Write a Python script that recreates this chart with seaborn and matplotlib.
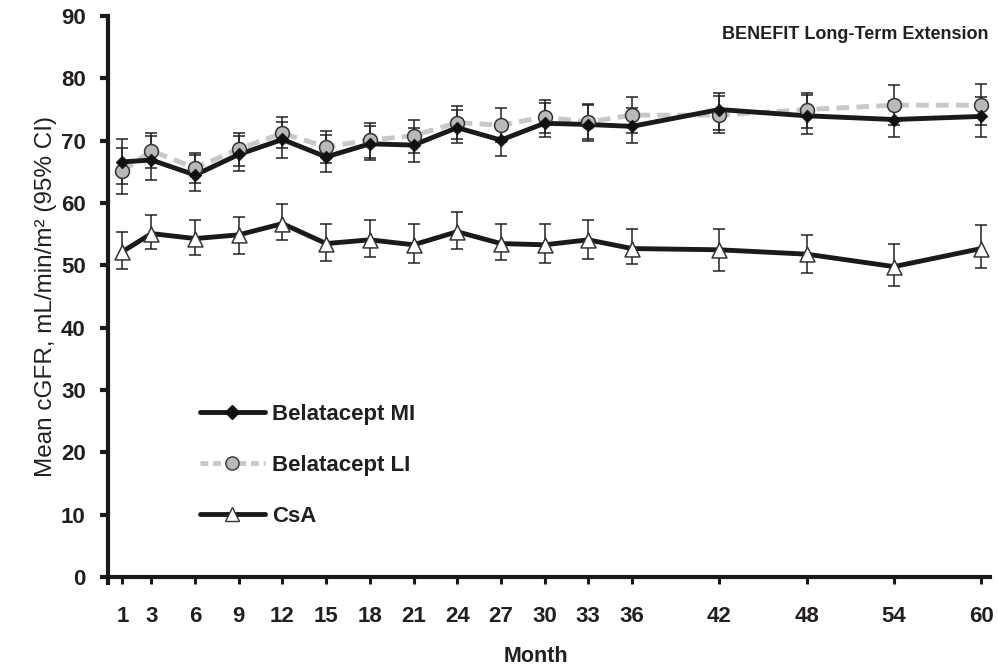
import numpy as np
import pandas as pd
import matplotlib
matplotlib.use("Agg")
import matplotlib.pyplot as plt
from matplotlib.lines import Line2D
import seaborn as sns

months = [1, 3, 6, 9, 12, 15, 18, 21, 24, 27, 30, 33, 36, 42, 48, 54, 60]
tick_labels = [str(m) for m in months]

mi_mean = [66.6, 66.9, 64.5, 67.8, 70.2, 67.4, 69.5, 69.3, 72.1, 70.1, 72.8, 72.6, 72.3, 75.0, 74.0, 73.4, 73.9]
mi_lo   = [63.0, 63.7, 61.9, 65.1, 67.3, 65.0, 66.9, 66.6, 69.7, 67.5, 70.6, 70.0, 69.7, 71.7, 71.0, 70.6, 70.6]
mi_hi   = [70.2, 70.8, 67.7, 70.8, 73.0, 70.9, 72.4, 72.1, 75.0, 72.7, 76.0, 75.7, 75.2, 77.7, 77.3, 76.3, 77.0]

li_mean = [65.1, 68.4, 65.6, 68.7, 71.2, 69.0, 70.1, 70.8, 72.9, 72.5, 73.8, 73.0, 74.1, 74.1, 75.0, 75.7, 75.7]
li_lo   = [61.4, 65.6, 63.2, 65.9, 68.9, 66.5, 67.3, 68.1, 70.2, 69.8, 71.3, 70.2, 71.2, 71.3, 72.0, 72.5, 72.5]
li_hi   = [68.9, 71.3, 68.1, 71.3, 73.8, 71.6, 72.9, 73.4, 75.6, 75.2, 76.5, 75.9, 77.0, 77.1, 77.7, 78.9, 79.1]

csa_mean = [52.2, 55.1, 54.3, 54.9, 56.7, 53.5, 54.1, 53.3, 55.4, 53.5, 53.3, 54.1, 52.7, 52.5, 51.8, 49.8, 52.7]
csa_lo   = [49.4, 52.7, 51.6, 51.9, 54.0, 50.7, 51.4, 50.4, 52.6, 50.9, 50.4, 51.1, 50.2, 49.1, 48.7, 46.7, 49.5]
csa_hi   = [55.4, 58.1, 57.2, 57.8, 59.8, 56.7, 57.2, 56.6, 58.5, 56.7, 56.6, 57.2, 55.9, 55.8, 54.9, 53.5, 56.4]

series_names = ["Belatacept MI", "Belatacept LI", "CsA"]
y_ticks = [0, 10, 20, 30, 40, 50, 60, 70, 80, 90]

sns.set_theme(style="ticks")
plt.rcParams["font.family"] = ["Liberation Sans", "DejaVu Sans"]

TXT = "#231f20"
DARK = "#1a1a1a"
GRAY_LINE = "#c8c8c8"
GRAY_FILL = "#b9b9b9"
fig = plt.figure(figsize=(9.98, 6.69), dpi=100)
ax = fig.add_axes([0.108, 0.1375, 0.884, 0.8385])

def frame(vals):
    return pd.DataFrame({"month": months, "v": vals})

# error bars
for mean, lo, hi in [(li_mean, li_lo, li_hi), (mi_mean, mi_lo, mi_hi), (csa_mean, csa_lo, csa_hi)]:
    m = np.array(mean); l = np.array(lo); h = np.array(hi)
    ax.errorbar(months, m, yerr=[m - l, h - m], fmt="none", ecolor="#222222",
                elinewidth=1.1, capsize=4.2, capthick=1.1, zorder=2)

LW = 3.5
DASH = (0, (2.6, 1.5))
# lines
sns.lineplot(data=frame(li_mean), x="month", y="v", ax=ax, color=GRAY_LINE,
             linewidth=LW, linestyle=DASH, zorder=3)
sns.lineplot(data=frame(mi_mean), x="month", y="v", ax=ax, color=DARK,
             linewidth=LW, zorder=4)
sns.lineplot(data=frame(csa_mean), x="month", y="v", ax=ax, color=DARK,
             linewidth=LW, zorder=4)

# markers
sns.scatterplot(data=frame(li_mean), x="month", y="v", ax=ax, marker="o", s=100,
                color=GRAY_FILL, edgecolor="#333333", linewidth=1.1, zorder=5)
sns.scatterplot(data=frame(mi_mean), x="month", y="v", ax=ax, marker="D", s=42,
                color="#111111", edgecolor="#111111", linewidth=0.5, zorder=6)
sns.scatterplot(data=frame(csa_mean), x="month", y="v", ax=ax, marker="^", s=115,
                color="white", edgecolor="#333333", linewidth=1.1, zorder=6)

ax.set_xlim(0, 60.6)
ax.set_ylim(0, 90)
ax.set_xticks(months)
ax.set_xticklabels(tick_labels)
ax.set_xticks([0], minor=True)
ax.set_yticks(y_ticks)

sns.despine(ax=ax)
for s in ["left", "bottom"]:
    ax.spines[s].set_linewidth(3.0)
    ax.spines[s].set_color(DARK)
ax.tick_params(axis="y", direction="out", length=5.8, width=3, color=DARK,
               labelsize=16, labelcolor=TXT, pad=10)
ax.tick_params(axis="x", which="major", direction="out", length=5, width=2.2, color=DARK,
               labelsize=16, labelcolor=TXT, pad=16)
ax.tick_params(axis="x", which="minor", direction="out", length=5.5, width=3, color=DARK)
for lab in ax.get_xticklabels() + ax.get_yticklabels():
    lab.set_fontweight("bold")

ax.set_xlabel("Month", fontsize=15.5, fontweight="bold", color=TXT, va="center")
ax.xaxis.set_label_coords(0.485, -0.1425)
ax.set_ylabel("Mean cGFR, mL/min/m² (95% CI)", fontsize=17.5, color=TXT)
ax.yaxis.set_label_coords(-0.057, 0.5)

fig.text(0.990, 0.948, "BENEFIT Long-Term Extension", ha="right", va="center",
         fontsize=13, fontweight="bold", color=TXT)

handles = [
    Line2D([], [], color=DARK, linewidth=LW, marker="D", markersize=6.8,
           markerfacecolor="#111111", markeredgecolor="#111111"),
    Line2D([], [], color=GRAY_LINE, linewidth=LW, linestyle=(0, (1.6, 1.0)), marker="o",
           markersize=9.5, markerfacecolor=GRAY_FILL, markeredgecolor="#333333"),
    Line2D([], [], color=DARK, linewidth=LW, marker="^", markersize=10.5,
           markerfacecolor="white", markeredgecolor="#333333"),
]
leg = ax.legend(handles, series_names, loc="upper left", bbox_to_anchor=(0.104, 0.309),
                frameon=False, handlelength=2.95, handletextpad=0.32, labelspacing=1.35,
                borderpad=0, borderaxespad=0, prop={"size": 16, "weight": "bold"})
for t in leg.get_texts():
    t.set_color(TXT)

fig.savefig("out.png", dpi=100)
